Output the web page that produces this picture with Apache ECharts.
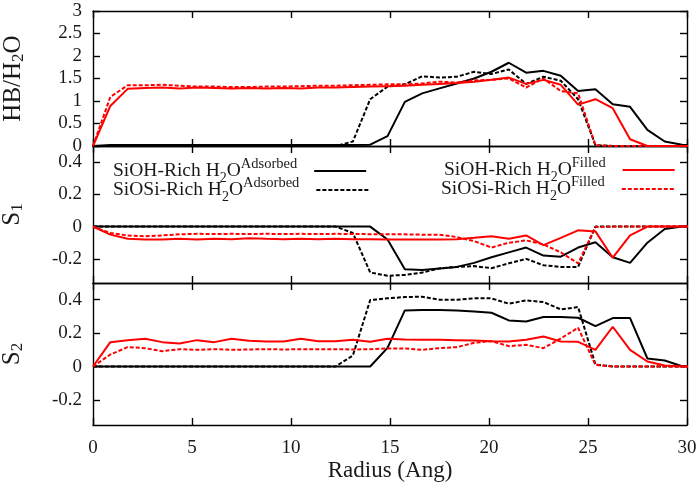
<!DOCTYPE html>
<html><head><meta charset="utf-8">
<script src="https://cdn.jsdelivr.net/npm/echarts@6/dist/echarts.min.js"></script>
<style>html,body{margin:0;padding:0;background:#fff}#c{width:700px;height:490px}</style>
</head><body><div id="c"></div>
<script>
// Radius (Ang) sample points
const radius = [0,0.875,1.75,2.625,3.5,4.375,5.25,6.125,7.0,7.875,8.75,9.625,10.5,11.375,12.25,13.125,14.0,14.875,15.75,16.625,17.5,18.375,19.25,20.125,21.0,21.875,22.75,23.625,24.5,25.375,26.25,27.125,28.0,28.875,29.75,30.625];

// Panel 1: HB/H2O
const hbOHAds  = [0,0.02,0.02,0.02,0.02,0.02,0.02,0.02,0.02,0.02,0.02,0.02,0.02,0.02,0.02,0.02,0.03,0.22,0.98,1.17,1.28,1.39,1.50,1.65,1.85,1.63,1.67,1.56,1.22,1.26,0.93,0.87,0.36,0.10,0.03,0];
const hbOSiAds = [0,0,0,0,0,0,0,0,0,0,0,0,0,0,0,0.10,1.04,1.32,1.37,1.55,1.52,1.54,1.65,1.60,1.70,1.38,1.54,1.45,1.04,0.02,0,0,0,0,0,0];
const hbOHFil  = [0,0.89,1.27,1.29,1.30,1.28,1.30,1.29,1.28,1.29,1.28,1.29,1.28,1.30,1.30,1.31,1.32,1.33,1.34,1.36,1.38,1.40,1.43,1.47,1.52,1.38,1.47,1.36,0.92,1.04,0.84,0.15,0,0,0,0];
const hbOSiFil = [0,1.09,1.35,1.35,1.36,1.34,1.32,1.32,1.31,1.31,1.32,1.32,1.33,1.34,1.34,1.35,1.36,1.37,1.37,1.39,1.43,1.41,1.46,1.47,1.50,1.30,1.50,1.22,1.17,0.02,0,0,0,0,0,0];

// Panel 2: S1
const s1OHAds  = [0,0,0,0,0,0,0,0,0,0,0,0,0,0,0,0,0,-0.08,-0.265,-0.27,-0.26,-0.25,-0.225,-0.19,-0.16,-0.13,-0.18,-0.187,-0.13,-0.097,-0.19,-0.225,-0.10,-0.015,0,0];
const s1OSiAds = [0,0,0,0,0,0,0,0,0,0,0,0,0,0,0,-0.04,-0.285,-0.305,-0.30,-0.285,-0.26,-0.25,-0.245,-0.258,-0.228,-0.20,-0.24,-0.25,-0.25,0,0,0,0,0,0,0];
const s1OHFil  = [0,-0.05,-0.076,-0.08,-0.08,-0.075,-0.08,-0.075,-0.078,-0.072,-0.076,-0.078,-0.076,-0.078,-0.076,-0.078,-0.078,-0.08,-0.08,-0.08,-0.08,-0.078,-0.07,-0.06,-0.075,-0.055,-0.115,-0.07,-0.023,-0.03,-0.193,-0.055,0,0,0,0];
const s1OSiFil = [0,-0.04,-0.055,-0.06,-0.055,-0.048,-0.045,-0.046,-0.045,-0.046,-0.045,-0.046,-0.045,-0.046,-0.045,-0.046,-0.047,-0.048,-0.048,-0.05,-0.05,-0.065,-0.09,-0.13,-0.10,-0.086,-0.11,-0.16,-0.228,-0.003,0,0,0,0,0,0];

// Panel 3: S2
const s2OHAds  = [0,0,0,0,0,0,0,0,0,0,0,0,0,0,0,0,0,0.112,0.336,0.338,0.338,0.336,0.33,0.322,0.276,0.27,0.296,0.296,0.292,0.242,0.29,0.29,0.048,0.036,0.002,0];
const s2OSiAds = [0,0,0,0,0,0,0,0,0,0,0,0,0,0,0,0.066,0.398,0.408,0.416,0.418,0.40,0.40,0.408,0.408,0.376,0.396,0.386,0.342,0.356,0.012,0,0,0,0,0,0];
const s2OHFil  = [0,0.146,0.158,0.166,0.146,0.138,0.158,0.146,0.166,0.154,0.15,0.15,0.166,0.152,0.152,0.16,0.148,0.166,0.162,0.16,0.16,0.158,0.156,0.152,0.15,0.16,0.18,0.15,0.148,0.10,0.238,0.10,0.03,0.006,0,0];
const s2OSiFil = [0,0.072,0.116,0.11,0.092,0.104,0.10,0.104,0.10,0.102,0.104,0.102,0.104,0.104,0.104,0.102,0.104,0.108,0.108,0.10,0.11,0.116,0.142,0.152,0.122,0.13,0.11,0.168,0.232,0.01,0,0,0,0,0,0];

const seriesNames = ['SiOH-Rich H2O Adsorbed','SiOSi-Rich H2O Adsorbed','SiOH-Rich H2O Filled','SiOSi-Rich H2O Filled'];
const xTicks = [0,5,10,15,20,25,30];
const hbTicks = [0,0.5,1,1.5,2,2.5,3];
const sTicks = [-0.2,0,0.2,0.4];

const F = "Liberation Serif";
const TXT = '#1a1a1a';
const chart = echarts.init(document.getElementById('c'), null, {renderer:'canvas'});

const panels = [
  {data:[hbOHAds,hbOSiAds,hbOHFil,hbOSiFil], min:0, max:3, ticks:hbTicks, name:'{a|HB/H}{s|2}{a|O}', gap:66},
  {data:[s1OHAds,s1OSiAds,s1OHFil,s1OSiFil], min:-0.35, max:0.5, ticks:sTicks, name:'{a|S}{s|1}', gap:67},
  {data:[s2OHAds,s2OSiAds,s2OHFil,s2OSiFil], min:-0.35, max:0.5, ticks:sTicks, name:'{a|S}{s|2}', gap:67}
];
const grids = [
  {left:93, top:11, width:594, height:135, outerBoundsMode:'none', containLabel:false},
  {left:93, top:146, width:594, height:137, outerBoundsMode:'none', containLabel:false},
  {left:93, top:283, width:594, height:142, outerBoundsMode:'none', containLabel:false}
];
const lineS = {color:'#000', width:1.4};
const styles = [
  {color:'#000', type:'solid'},
  {color:'#000', type:[4,2]},
  {color:'#ff0000', type:'solid'},
  {color:'#ff0000', type:[4,2]}
];
const tickStyle = {fontFamily:F, fontSize:19, color:TXT};
const tickRich = {
  a:{fontFamily:F, fontSize:19, color:TXT, lineHeight:22, verticalAlign:'middle'},
  z:{fontFamily:F, fontSize:10, color:TXT, lineHeight:10, verticalAlign:'bottom'}
};
const tickFmt = v => '{a|' + v + '}{z|\u200b}';

const xAxis = [], yAxis = [], series = [];
panels.forEach((p, g) => {
  ['bottom','top'].forEach(pos => {
    const o = {
      type:'value', gridIndex:g, position:pos, min:0, max:30,
      axisLine:{show:true, onZero:false, lineStyle:lineS},
      axisTick:{show:true, inside:true, length:7, lineStyle:lineS, customValues:xTicks},
      axisLabel:Object.assign({show:(g===2 && pos==='bottom'), customValues:xTicks, margin:12, formatter:tickFmt, rich:tickRich}, tickStyle),
      splitLine:{show:false}
    };
    if (g===2 && pos==='bottom') {
      o.name = '{a|Radius (Ang)}{z|\u200b}'; o.nameLocation='middle'; o.nameGap=31;
      o.nameTextStyle = {fontFamily:F, fontSize:23, color:TXT,
        rich:{a:{fontFamily:F, fontSize:23, color:TXT, lineHeight:26, verticalAlign:'middle'},
              z:{fontFamily:F, fontSize:10, color:TXT, lineHeight:10, verticalAlign:'bottom'}}};
    }
    xAxis.push(o);
  });
  ['left','right'].forEach(pos => {
    const o = {
      type:'value', gridIndex:g, position:pos, min:p.min, max:p.max,
      axisLine:{show:true, onZero:false, lineStyle:lineS},
      axisTick:{show:true, inside:true, length:7, lineStyle:lineS, customValues:p.ticks},
      axisLabel:Object.assign({show:pos==='left', customValues:p.ticks, margin:11, formatter:tickFmt, rich:tickRich}, tickStyle),
      splitLine:{show:false}
    };
    if (pos==='left') {
      o.name = p.name; o.nameLocation='middle'; o.nameRotate=90; o.nameGap=p.gap;
      o.nameTextStyle = {fontFamily:F, fontSize:25, color:TXT, rich:{
        a:{fontFamily:F, fontSize:25, color:TXT, lineHeight:28, verticalAlign:'middle'},
        s:{fontFamily:F, fontSize:17, color:TXT, lineHeight:16, verticalAlign:'bottom'}
      }};
    }
    yAxis.push(o);
  });
  p.data.forEach((arr, k) => {
    series.push({
      type:'line', name:seriesNames[k], xAxisIndex:g*2, yAxisIndex:g*2,
      data: radius.map((r,i) => [r, arr[i]]),
      symbol:'none', smooth:false, clip:true, animation:false,
      lineStyle:{color:styles[k].color, type:styles[k].type, width:2},
      itemStyle:{color:styles[k].color},
      z: 2 + k
    });
  });
});

const rich = {
  a:{fontFamily:F, fontSize:19.5, color:TXT, lineHeight:28, verticalAlign:'middle'},
  sub:{fontFamily:F, fontSize:14, color:TXT, lineHeight:14, verticalAlign:'bottom'},
  sup:{fontFamily:F, fontSize:14.5, color:TXT, lineHeight:12, verticalAlign:'top'},
  p:{fontFamily:F, fontSize:10, width:12}
};
function legendLabel(name) {
  const parts = name.split(' ');
  return '{a|' + parts[0] + ' H}{sub|2}{a|O}{sup|' + parts[2] + '}{p| }';
}
const legendCommon = {orient:'vertical', align:'right', itemWidth:52, itemHeight:12, padding:0,
  selectedMode:false, formatter:legendLabel,
  itemStyle:{opacity:0, color:'rgba(0,0,0,0)', borderWidth:0},
  textStyle:{fontFamily:F, fontSize:19, color:TXT, rich:rich}};
const legend = [
  Object.assign({data:[seriesNames[0]], left:113, top:157}, legendCommon),
  Object.assign({data:[seriesNames[1]], left:113, top:176}, legendCommon),
  Object.assign({data:[seriesNames[2]], left:444, top:156}, legendCommon),
  Object.assign({data:[seriesNames[3]], left:441, top:175}, legendCommon)
];

chart.setOption({
  backgroundColor:'#fff', animation:false,
  textStyle:{fontFamily:F},
  grid: grids, xAxis: xAxis, yAxis: yAxis, series: series, legend: legend
});
</script></body></html>
